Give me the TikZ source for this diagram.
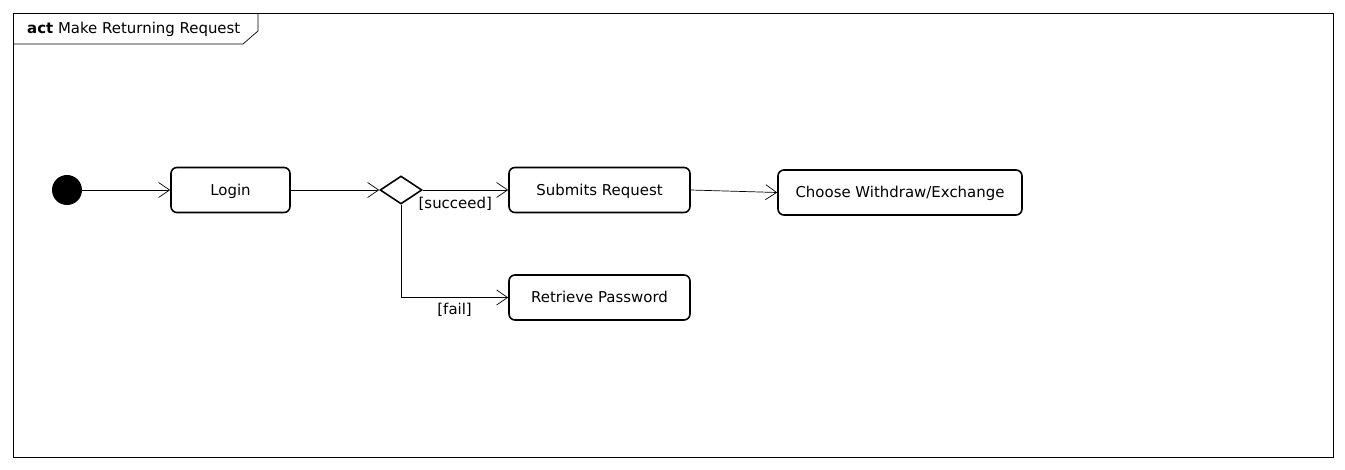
\documentclass[tikz,border=0pt]{standalone}
\usepackage{fontspec}
\setmainfont{DejaVu Sans}
\usetikzlibrary{arrows.meta,shapes.geometric}
\tikzset{
  action/.style={draw, line width=1.6pt, rounded corners=6bp, minimum height=45bp, text depth=1bp, font=\fontsize{15}{18}\selectfont},
  flow/.style={-{Straight Barb[length=11bp,width=15bp]}, line width=0.7pt},
  guard/.style={font=\fontsize{15}{18}\selectfont, inner sep=1bp}
}
\begin{document}
\begin{tikzpicture}[x=1bp, y=-1bp]
      \useasboundingbox (0,0) rectangle (1345,470);
      % frame
      \draw[line width=0.7pt] (13,13) rectangle (1333,457);
      \draw[line width=0.7pt] (258,13) -- (258,31) -- (243,44) -- (13,44);
      \node[anchor=west, inner sep=0pt, font=\fontsize{15}{18}\selectfont] (title) at (27,29) {\textbf{act} Make Returning Request};
      % nodes
      \node[circle, fill=black, minimum size=30bp, inner sep=0pt] (start) at (67,190) {};
      \node[action, minimum width=119bp] (login) at (230.5,190) {Login};
      \node[diamond, draw, line width=1.6pt, minimum width=42bp, minimum height=28bp, inner sep=0pt] (decision) at (401,190) {};
      \node[action, minimum width=181bp] (submit) at (599.5,190) {Submits Request};
      \node[action, minimum width=244bp] (choose) at (900,192.5) {Choose Withdraw/Exchange};
      \node[action, minimum width=181bp] (retrieve) at (599.5,297.5) {Retrieve Password};
      % flows
      \draw[flow] (start) -- (login);
      \draw[flow] (login) -- (decision);
      \draw[flow] (decision.east) -- (submit.west) node[guard, pos=0.38, below=6bp] {[succeed]};
      \draw[flow] (decision.south) |- (retrieve.west) node[guard, pos=0.75, below=4bp] {[fail]};
      \draw[flow] (submit.east) -- (choose.west);
    \end{tikzpicture}
\end{document}
